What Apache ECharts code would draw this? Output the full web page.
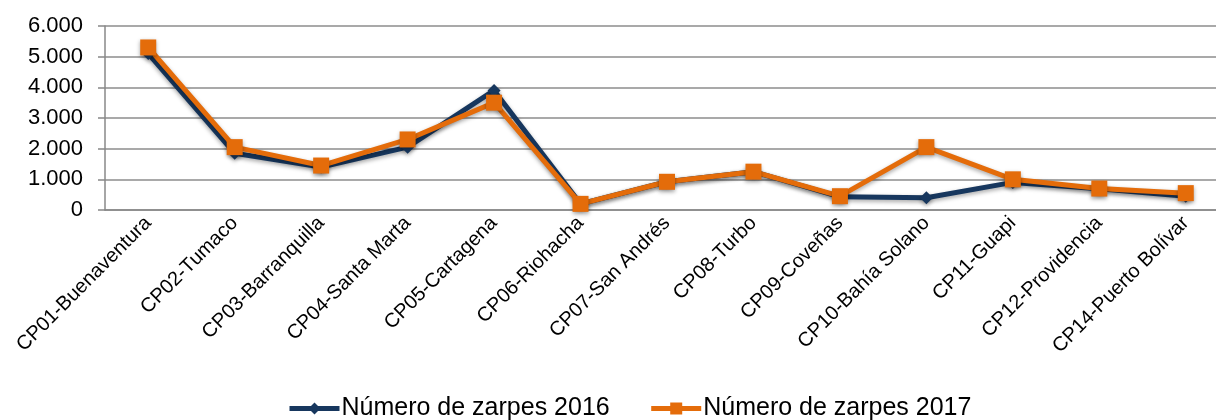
<!DOCTYPE html>
<html>
<head>
<meta charset="utf-8">
<script src="https://cdn.jsdelivr.net/npm/echarts@6/dist/echarts.min.js"></script>
<style>
	html, body { margin: 0; padding: 0; background: #fff; }
	#main { width: 1216px; height: 420px; }
</style>
</head>
<body>
<div id="main"></div>
<script>
var categorias = ["CP01-Buenaventura", "CP02-Tumaco", "CP03-Barranquilla", "CP04-Santa Marta", "CP05-Cartagena",
	"CP06-Riohacha", "CP07-San Andrés", "CP08-Turbo", "CP09-Coveñas", "CP10-Bahía Solano",
	"CP11-Guapi", "CP12-Providencia", "CP14-Puerto Bolívar"];
var zarpes2016 = [5100, 1850, 1400, 2050, 3900, 200, 920, 1250, 430, 400, 900, 690, 450];
var zarpes2017 = [5300, 2050, 1450, 2300, 3500, 200, 920, 1250, 450, 2050, 1000, 700, 550];
var nombres = ["Número de zarpes 2016", "Número de zarpes 2017"];

function miles(v){
	return String(v).replace(/\B(?=(\d{3})+(?!\d))/g, ".");
}

var sombra = { shadowColor: 'rgba(0,0,0,0.35)', shadowBlur: 4, shadowOffsetY: 2 };

var myChart = echarts.init(document.getElementById('main'));
myChart.setOption({
	animation: false,
	textStyle: { fontFamily: 'Liberation Sans, Arial, sans-serif' },
	legend: {
		top: 391,
		left: 282,
		itemGap: 39,
		itemWidth: 50,
		itemHeight: 15,
		lineStyle: { width: 5 },
		textStyle: { fontSize: 25, color: '#000', padding: [0, 0, 0, -3] },
		data: nombres
	},
	grid: {
		left: 105,
		top: 26,
		width: 1124,
		height: 184,
		outerBoundsMode: 'none',
		containLabel: false
	},
	xAxis: {
		type: 'category',
		data: categorias,
		axisLine: { lineStyle: { color: '#888', width: 1.5 } },
		axisTick: { show: false },
		axisLabel: {
			rotate: 45,
			interval: 0,
			fontSize: 20,
			color: '#000',
			margin: 10
		}
	},
	yAxis: {
		type: 'value',
		min: 0,
		max: 6000,
		interval: 1000,
		axisLine: { show: true, lineStyle: { color: '#888', width: 1.5 } },
		axisTick: { show: true, length: 7, lineStyle: { color: '#888', width: 1.5 } },
		splitLine: { lineStyle: { color: '#8c8c8c', width: 1.5 } },
		axisLabel: {
			fontSize: 22,
			color: '#000',
			margin: 22,
			formatter: miles
		}
	},
	series: [
		{
			name: nombres[0],
			type: 'line',
			data: zarpes2016,
			symbol: 'diamond',
			symbolSize: 13,
			color: '#17375e',
			lineStyle: Object.assign({ width: 5 }, sombra),
			itemStyle: Object.assign({ color: '#17375e' }, sombra)
		},
		{
			name: nombres[1],
			type: 'line',
			data: zarpes2017,
			symbol: 'rect',
			symbolSize: 16,
			color: '#e46c0a',
			lineStyle: Object.assign({ width: 5 }, sombra),
			itemStyle: Object.assign({ color: '#e46c0a' }, sombra)
		}
	]
});
</script>
</body>
</html>
